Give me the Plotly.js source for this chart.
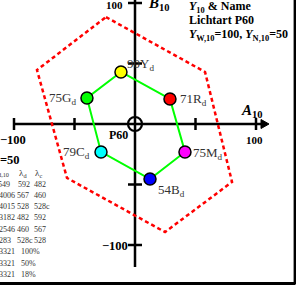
<!DOCTYPE html>
<html><head><meta charset="utf-8">
<script src="https://cdn.plot.ly/plotly-3.0.1.min.js"></script>
<style>html,body{margin:0;padding:0;background:#fff;overflow:hidden}</style>
</head><body><div id="chart" style="width:296px;height:289px"></div>
<script>
// ---- data ----
const hueNames   = ['90Y', '71R', '75M', '54B', '79C', '75G'];
const hueA       = [-11.6, 28.9, 41.3, 12.4, -28.1, -39.7];
const hueB       = [43.0, 20.7, -23.1, -45.5, -23.1, 21.5];
const hueColors  = ['#ffff00', '#ff0000', '#ff00ff', '#0000ff', '#00ffff', '#00ff00'];
const gamutA     = [-24, 57.9, 80.2, 24.8, -56.2, -81];
const gamutB     = [88.4, 43, -47.9, -89.3, -44.6, 44.6];
const tickValues = [-100, -50, 50, 100];
const tableCol1  = ['549', '4006', '4015', '3182', '2546', '283', '3321', '3321', '3321'];
const tableCol2  = ['592', '567', '528', '482', '460', '528c', '100%', '50%', '18%'];
const tableCol3  = ['482', '460', '528c', '592', '567', '528', '', '', ''];

// ---- layout helpers (pixel geometry of the frame) ----
const S = 1.21, OX = 135, OY = 124, W = 296, H = 289;
const px = p => (p - OX) / S;
const py = p => (OY - p) / S;
const fx = p => p / W;
const fy = p => 1 - p / H;

const closedA = gamutA.concat([gamutA[0]]);
const closedB = gamutB.concat([gamutB[0]]);
const polyA = hueA.concat([hueA[0]]);
const polyB = hueB.concat([hueB[0]]);

const traces = [
  {x: closedA, y: closedB, mode: 'lines', line: {color: '#ff0000', width: 2.5, dash: '4px,3px'}, hoverinfo: 'skip'},
  {x: polyA, y: polyB, mode: 'lines', line: {color: '#00ff00', width: 2}, hoverinfo: 'skip'},
  {x: hueA, y: hueB, mode: 'markers', marker: {size: 12, color: hueColors, line: {color: '#000', width: 1.5}}, hoverinfo: 'skip'}
];

const shapes = [];
const blk = {color: '#000', width: 2.5};
// axes
shapes.push({type: 'line', xref: 'x', yref: 'y', x0: 0, x1: 0, y0: py(267), y1: py(-5), line: blk, layer: 'below'});
shapes.push({type: 'line', xref: 'x', yref: 'y', x0: px(15), x1: px(263), y0: 0, y1: 0, line: blk, layer: 'below'});
// arrow head
shapes.push({type: 'path', xref: 'x', yref: 'y',
  path: `M ${px(261)} ${py(119.5)} L ${px(269)} ${py(124)} L ${px(261)} ${py(128.5)} Z`,
  fillcolor: '#000', line: {color: '#000', width: 1}});
tickValues.forEach(t => {
  shapes.push({type: 'line', xref: 'x', yref: 'y', x0: t, x1: t, y0: 6 / S, y1: -6 / S, line: blk, layer: 'below'});
  shapes.push({type: 'line', xref: 'x', yref: 'y', y0: t, y1: t, x0: -7 / S, x1: 7 / S, line: blk, layer: 'below'});
});
// origin circle
shapes.push({type: 'circle', xref: 'x', yref: 'y', x0: -7 / S, x1: 7 / S, y0: -7 / S, y1: 7 / S, line: {color: '#000', width: 2.2}});
// frame
shapes.push({type: 'line', xref: 'paper', yref: 'paper', x0: fx(295), x1: fx(295), y0: fy(-2), y1: fy(284.5), line: {color: '#000', width: 2.8}});
shapes.push({type: 'line', xref: 'paper', yref: 'paper', x0: fx(-2), x1: fx(295), y0: fy(283.5), y1: fy(283.5), line: {color: '#000', width: 2.8}});

const serif = 'Liberation Serif, Times New Roman, serif';
const ann = [];
function txt(text, x, y, size, anchor, color) {
  ann.push({text: text, xref: 'paper', yref: 'paper', x: fx(x), y: fy(y), showarrow: false,
    xanchor: anchor, yanchor: 'middle', font: {family: serif, size: size, color: color || '#000'}, borderpad: 0});
}
// point labels
const labelDX = [4, 8, 6, 6, -9, -9];
const labelDY = [-7, 1, 2, 11, 1, 1];
const labelAnchor = ['left', 'left', 'left', 'left', 'right', 'right'];
hueNames.forEach((n, i) => {
  ann.push({text: n + '<sub>d</sub>', xref: 'x', yref: 'y', x: hueA[i], y: hueB[i], xshift: labelDX[i], yshift: -labelDY[i],
    showarrow: false, xanchor: labelAnchor[i], yanchor: 'middle', font: {family: serif, size: 13, color: '#333'}});
});
// axis labels
txt('<b>100</b>', 115, 5, 11, 'center');
txt('<b><i>B</i><sub>10</sub></b>', 147, 4, 15, 'left');
txt('<b><i>A</i><sub>10</sub></b>', 240, 111, 15, 'left');
txt('<b>100</b>', 254, 140, 11, 'center');
txt('<b>\u2212100</b>', -1, 140, 12.5, 'left');
txt('<b>\u2212100</b>', 114.5, 246, 12.5, 'center');
txt('<b>P60</b>', 118.5, 135, 12, 'center');
txt('<b>=50</b>', -1, 160, 12.5, 'left');
// title block
txt('<b><i>Y</i><sub>10</sub> & Name</b>', 188, 7, 12, 'left');
txt('<b>Lichtart P60</b>', 188, 20, 12, 'left');
txt('<b><i>Y</i><sub>W,10</sub>=100, <i>Y</i><sub>N,10</sub>=50</b>', 188, 35, 12, 'left');
// table
txt('<sub>d,10</sub>', 10, 174, 9, 'right', '#333');
txt('λ<sub>d</sub>', 18, 173, 9, 'left', '#333');
txt('λ<sub>c</sub>', 34, 173, 9, 'left', '#333');
tableCol1.forEach((v, i) => {
  const y = 184 + i * 11.3;
  txt(v, i === 0 ? -3 : -2, y, 8, 'left', '#333');
  txt(tableCol2[i], i >= 6 ? 20 : (i === 0 ? 17 : 15.5), y, 8, 'left', '#333');
  if (tableCol3[i]) txt(tableCol3[i], 33, y, 8, 'left', '#333');
});

const layout = {
  width: W, height: H, margin: {l: 0, r: 0, t: 0, b: 0}, showlegend: false,
  paper_bgcolor: '#fff', plot_bgcolor: '#fff',
  xaxis: {range: [px(0), px(W)], visible: false, fixedrange: true},
  yaxis: {range: [py(H), py(0)], visible: false, fixedrange: true},
  shapes: shapes, annotations: ann
};
Plotly.newPlot('chart', traces, layout, {staticPlot: true, displayModeBar: false});
</script></body></html>
